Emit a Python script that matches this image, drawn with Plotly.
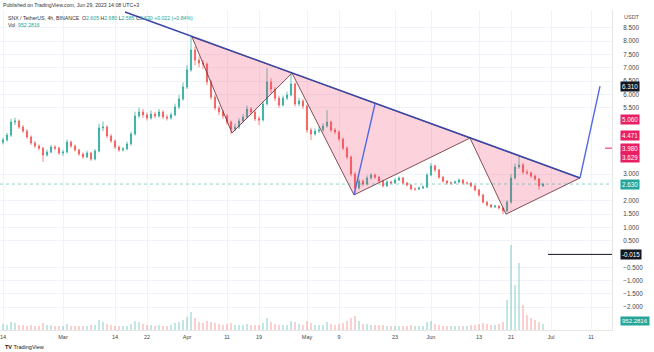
import plotly.graph_objects as go
import pandas as pd

# ---------------- data ----------------
start_date = "2023-02-14"
first_open = 4.20
close = [4.29,4.47,4.96,5.00,4.77,4.62,4.40,4.17,4.06,3.98,
         3.72,3.83,4.02,3.98,3.80,3.83,4.21,4.06,3.91,3.76,
         3.65,3.80,3.57,3.87,4.74,4.77,4.44,4.25,4.02,3.91,
         3.95,4.14,4.51,5.19,5.34,5.23,5.11,5.26,5.19,5.34,
         5.15,5.11,5.23,5.53,5.83,6.28,6.92,7.67,7.29,7.18,
         7.14,6.47,5.90,5.49,5.34,5.19,4.96,4.70,4.77,5.00,
         5.15,5.45,5.34,5.08,5.04,5.64,6.47,6.20,5.86,5.60,
         5.86,5.98,6.39,5.64,5.75,5.56,4.66,4.51,4.62,4.66,
         4.81,4.96,4.66,4.59,4.32,3.98,3.65,3.01,2.48,2.74,
         2.63,2.86,2.97,2.89,2.74,2.56,2.71,2.67,2.78,2.86,
         2.67,2.59,2.44,2.44,2.48,2.52,2.97,3.31,3.16,2.89,
         2.74,2.67,2.67,2.71,2.78,2.67,2.67,2.56,2.41,2.22,
         1.95,1.84,1.77,1.80,1.73,1.62,1.95,2.86,3.27,3.35,
         3.08,3.05,2.93,2.82,2.56,2.63]
high = [4.38,4.55,5.08,5.12,5.06,4.85,4.70,4.46,4.25,4.12,
        4.03,3.92,4.10,4.09,4.03,3.92,4.30,4.27,4.12,3.96,
        3.82,3.88,3.84,3.95,4.90,4.98,4.84,4.50,4.30,4.08,
        4.03,4.22,4.60,5.35,5.50,5.45,5.32,5.40,5.35,5.45,
        5.40,5.24,5.32,5.65,5.98,6.45,7.10,8.16,7.80,7.42,
        7.30,7.20,6.55,6.00,5.58,5.42,5.26,5.02,4.90,5.10,
        5.26,5.58,5.52,5.40,5.18,5.75,6.99,6.60,6.28,5.95,
        5.96,6.10,6.80,6.45,5.88,5.82,5.62,4.75,4.72,4.78,
        4.92,5.41,5.02,4.74,4.64,4.38,4.04,3.70,3.08,2.84,
        2.80,2.95,3.05,3.02,2.94,2.79,2.78,2.76,2.85,2.92,
        2.90,2.72,2.63,2.50,2.54,2.58,3.05,3.42,3.36,3.20,
        2.94,2.78,2.73,2.77,2.84,2.82,2.72,2.70,2.60,2.45,
        2.26,1.99,1.88,1.85,1.84,1.76,2.02,3.00,3.40,3.72,
        3.42,3.18,3.10,2.98,2.86,2.68]
low = [4.12,4.22,4.40,4.85,4.70,4.55,4.33,4.10,3.98,3.90,
       3.46,3.66,3.78,3.90,3.72,3.68,3.78,3.99,3.85,3.69,
       3.58,3.60,3.50,3.52,3.82,4.62,4.36,4.18,3.95,3.84,
       3.85,3.90,4.08,4.45,5.10,5.12,5.02,5.05,5.10,5.12,
       5.08,5.02,5.05,5.18,5.45,5.76,6.20,6.85,7.10,7.02,
       6.95,6.35,5.80,5.40,5.22,5.08,4.86,4.51,4.62,4.70,
       4.95,5.10,5.25,5.00,4.85,4.98,5.58,6.05,5.75,5.50,
       5.55,5.78,5.92,5.55,5.56,5.45,4.55,4.29,4.45,4.55,
       4.60,4.75,4.58,4.50,4.24,3.90,3.56,2.92,2.22,2.42,
       2.55,2.58,2.80,2.82,2.68,2.50,2.52,2.62,2.63,2.74,
       2.62,2.54,2.39,2.38,2.40,2.44,2.48,2.92,3.08,2.82,
       2.68,2.61,2.61,2.63,2.66,2.62,2.60,2.50,2.35,2.15,
       1.90,1.78,1.72,1.73,1.67,1.50,1.58,1.90,2.80,3.20,
       3.00,2.98,2.86,2.75,2.41,2.52]
volume = [6,5,8,7,5,5,4,5,4,4,
          7,5,5,4,4,4,6,4,4,4,
          4,4,5,5,10,8,6,5,4,4,
          4,4,6,9,8,6,5,5,4,5,
          4,4,5,7,8,10,13,18,12,8,
          7,9,8,7,6,5,6,7,5,5,
          5,6,5,5,5,7,12,8,6,5,
          5,5,9,8,6,5,9,7,5,5,
          5,8,6,5,6,7,9,12,14,9,
          6,6,5,5,5,5,4,4,4,4,
          4,4,5,4,4,4,8,9,6,5,
          4,4,4,4,4,4,4,5,5,6,
          7,6,5,5,6,8,30,85,45,67,
          25,15,12,10,8,6]

# pattern drawings (date, price)
triangle_dates = [["2023-04-02 06:00", "2023-04-12 06:00", "2023-04-27 06:00"],
                  ["2023-04-27 06:00", "2023-05-12 18:00", "2023-06-10 18:00"],
                  ["2023-06-10 18:00", "2023-06-19 18:00", "2023-07-08 06:00"]]
triangle_prices = [[8.16, 4.55, 6.80],
                   [6.80, 2.22, 4.36],
                   [4.36, 1.50, 2.86]]
trend_dates = ["2023-03-16 12:00", "2023-07-08 06:00"]
trend_prices = [9.10, 2.86]
up_dates = [["2023-05-12 18:00", "2023-05-18 00:00"],
            ["2023-07-08 06:00", "2023-07-13 06:00"]]
up_prices = [[2.22, 5.64], [2.86, 6.31]]

level_values = [6.310, 5.060, 4.471, 3.980, 3.629, -0.015, 2.630]
level_colors = ["#131722", "#e91e63", "#e91e63", "#e91e63", "#e91e63", "#131722", "#26a69a"]

price_ticks = [-2.0, -1.5, -1.0, -0.5, 0.5, 1.0, 1.5, 2.0, 3.0,
               5.5, 6.0, 6.5, 7.0, 7.5, 8.0, 8.5]
date_ticks = ["2023-02-14", "2023-03-01", "2023-03-14", "2023-03-22", "2023-04-01",
              "2023-04-11", "2023-04-19", "2023-05-01", "2023-05-09", "2023-05-23",
              "2023-06-01", "2023-06-13", "2023-06-21", "2023-07-01", "2023-07-11"]
date_labels = ["14", "Mar", "14", "22", "Apr", "11", "19", "May", "9", "23",
               "Jun", "13", "21", "Jul", "11"]

# ---------------- build ----------------
dates = pd.date_range(start_date, periods=len(close), freq="D")
opens = [first_open] + close[:-1]
GREEN = "#26a69a"
RED = "#ef5350"
vol_colors = ["rgba(38,166,154,0.35)" if c >= o else "rgba(239,83,80,0.35)"
              for o, c in zip(opens, close)]

fig = go.Figure()

fig.add_trace(go.Bar(x=dates, y=volume, marker_color=vol_colors, marker_line_width=0,
                     yaxis="y2", showlegend=False, hoverinfo="skip"))

for td, tp in zip(triangle_dates, triangle_prices):
    fig.add_trace(go.Scatter(x=td + [td[0]], y=tp + [tp[0]], mode="lines", fill="toself",
                             fillcolor="rgba(242,54,100,0.22)",
                             line=dict(color="rgba(110,50,60,0.85)", width=1),
                             showlegend=False, hoverinfo="skip"))

fig.add_trace(go.Candlestick(x=dates, open=opens, high=high, low=low, close=close,
                             increasing=dict(line=dict(color=GREEN, width=0.7), fillcolor=GREEN),
                             decreasing=dict(line=dict(color=RED, width=0.7), fillcolor=RED),
                             whiskerwidth=0, showlegend=False))

fig.add_trace(go.Scatter(x=trend_dates, y=trend_prices, mode="lines",
                         line=dict(color="#3a47a8", width=1.6), showlegend=False, hoverinfo="skip"))
for ud, up in zip(up_dates, up_prices):
    fig.add_trace(go.Scatter(x=ud, y=up, mode="lines",
                             line=dict(color="#5468e6", width=1.4), showlegend=False, hoverinfo="skip"))

# current price line
fig.add_shape(type="line", xref="paper", x0=0, x1=1, yref="y", y0=close[-1], y1=close[-1],
              line=dict(color="rgba(38,166,154,0.5)", width=1, dash="dot"))
# horizontal drawings
fig.add_shape(type="line", xref="x", x0="2023-06-30 06:00", x1="2023-07-16 06:00",
              yref="y", y0=level_values[5], y1=level_values[5],
              line=dict(color="#131722", width=1))
fig.add_shape(type="line", xref="x", x0="2023-07-14 12:00", x1="2023-07-16 06:00",
              yref="y", y0=level_values[3], y1=level_values[3],
              line=dict(color="#e91e63", width=1))

font = "Liberation Sans, Arial, sans-serif"
annotations = []
for v, col in zip(level_values, level_colors):
    annotations.append(dict(x=1, xref="paper", xanchor="left", xshift=8, y=v, yref="y",
                            text=f"{v:.3f}", showarrow=False, bgcolor=col, borderpad=1,
                            font=dict(color="white", size=6.3, family=font)))
annotations.append(dict(x=1, xref="paper", xanchor="left", xshift=8, y=volume[-1] + 3, yref="y2",
                        text="952.2816", showarrow=False, bgcolor=GREEN, borderpad=1,
                        font=dict(color="white", size=6, family=font)))
annotations.append(dict(x=1, xref="paper", xanchor="left", xshift=10, y=1, yref="paper",
                        yanchor="top", yshift=-2, text="USDT", showarrow=False,
                        font=dict(color="#555", size=5.5, family=font)))
annotations.append(dict(x=0, xref="paper", xanchor="left", xshift=1, y=1, yref="paper",
                        yanchor="bottom", yshift=0,
                        text="Published on TradingView.com, Jun 29, 2023 14:08 UTC+3",
                        showarrow=False, font=dict(color="#333", size=5.2, family=font)))
annotations.append(dict(x=0, xref="paper", xanchor="left", xshift=6, y=1, yref="paper",
                        yanchor="top", yshift=-3,
                        text=("SNX / TetherUS, 4h, BINANCE  "
                              "O<span style='color:#26a69a'>2.605</span> "
                              "H<span style='color:#26a69a'>2.680</span> "
                              "L<span style='color:#26a69a'>2.585</span> "
                              "C<span style='color:#26a69a'>2.630</span> "
                              "<span style='color:#26a69a'>+0.022 (+0.84%)</span>"),
                        showarrow=False, font=dict(color="#333", size=5.2, family=font)))
annotations.append(dict(x=0, xref="paper", xanchor="left", xshift=6, y=1, yref="paper",
                        yanchor="top", yshift=-10,
                        text="Vol  <span style='color:#26a69a'>952.2816</span>",
                        showarrow=False, font=dict(color="#333", size=5.2, family=font)))
annotations.append(dict(x=0, xref="paper", xanchor="left", xshift=3, y=0, yref="paper",
                        yanchor="top", yshift=-12,
                        text="<b>TV</b> TradingView", showarrow=False,
                        font=dict(color="#131722", size=5.5, family=font)))

fig.update_layout(
    width=654, height=352,
    margin=dict(l=0, r=42, t=10, b=22),
    paper_bgcolor="white", plot_bgcolor="white",
    showlegend=False, bargap=0.6, boxgap=0.6,
    annotations=annotations,
    xaxis=dict(type="date", range=["2023-02-13 06:00", "2023-07-16 06:00"],
               rangeslider=dict(visible=False),
               tickvals=date_ticks, ticktext=date_labels,
               tickfont=dict(size=5.5, color="#444", family=font),
               ticklabeloverflow="allow",
               showgrid=True, gridcolor="#f0f3fa", gridwidth=1,
               zeroline=False, showline=True, linecolor="#e6e6e6", linewidth=1,
               ticks="", ticklabelstandoff=1),
    yaxis=dict(side="right", range=[-2.857, 9.173], tickvals=price_ticks,
               tickformat=".3f", tickfont=dict(size=6.3, color="#444", family=font),
               showgrid=True, gridcolor="#f0f3fa", gridwidth=1, zeroline=False,
               showline=True, linecolor="#e6e6e6", linewidth=1,
               ticks="", ticklabelstandoff=9),
    yaxis2=dict(overlaying="y", range=[0, 320], visible=False, showgrid=False),
)

fig.write_html("out.html")
